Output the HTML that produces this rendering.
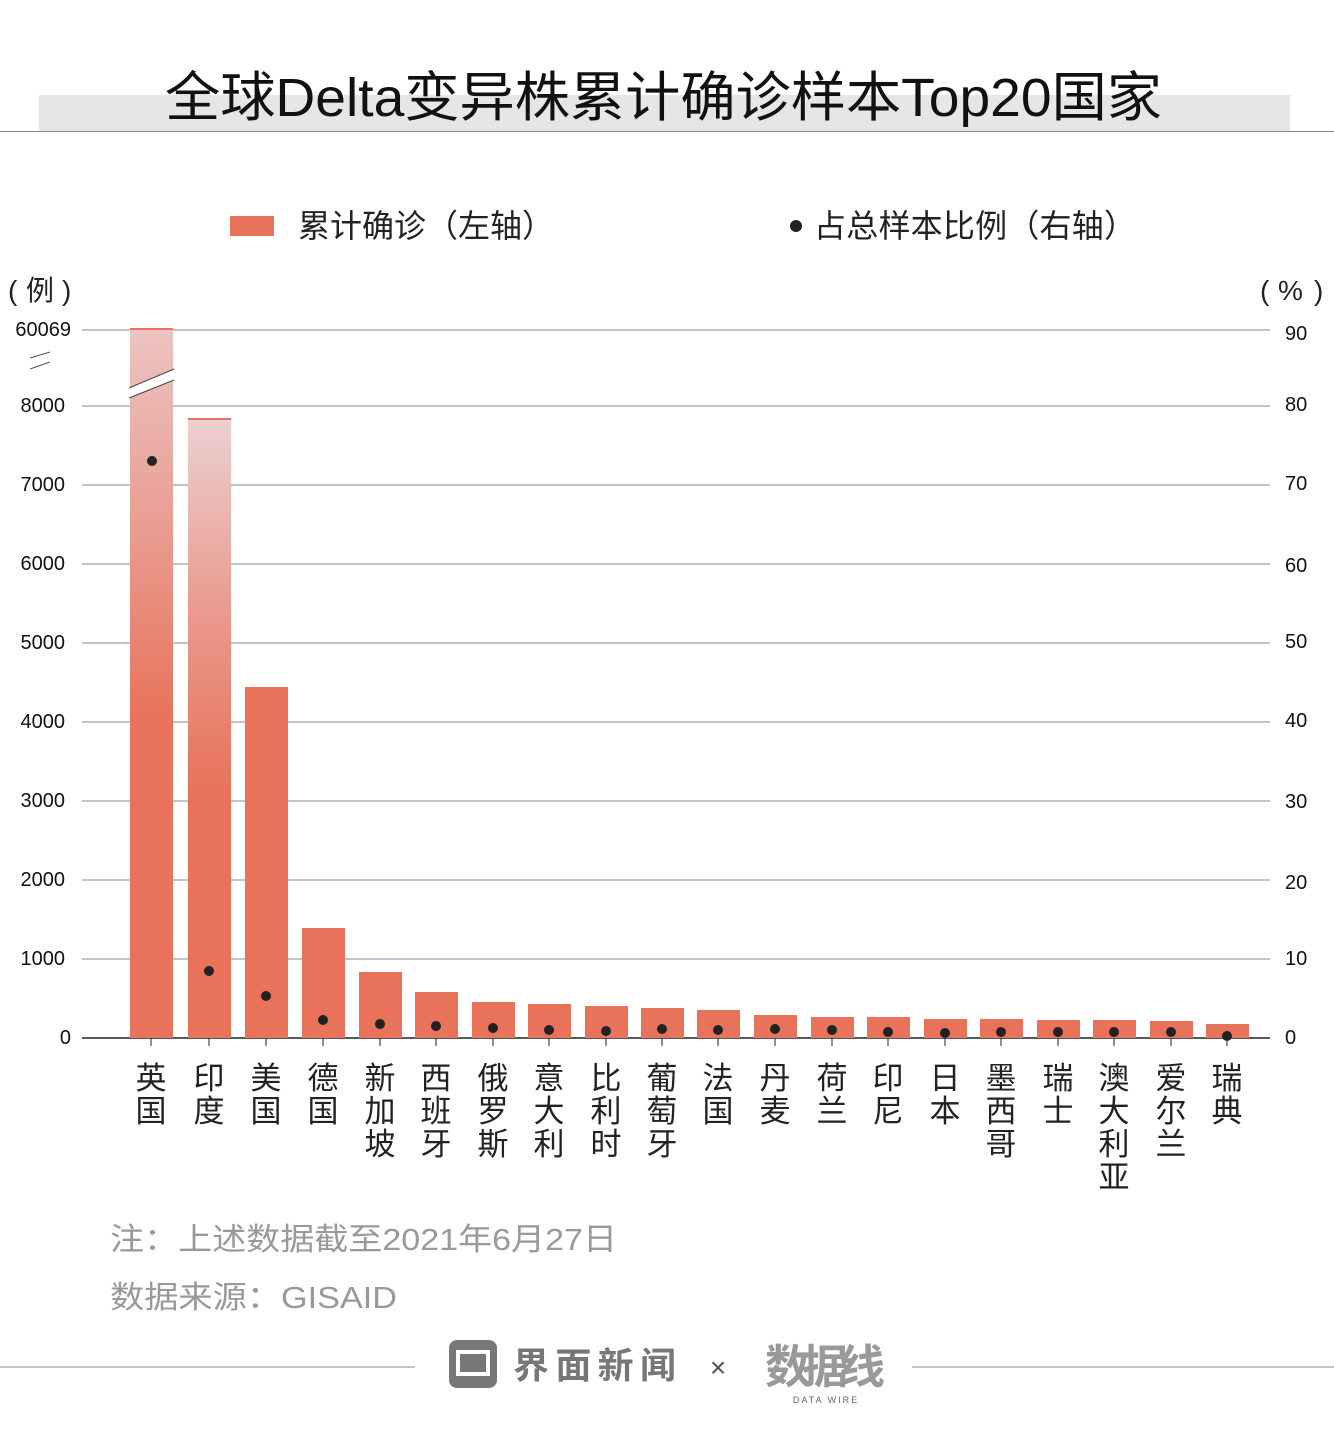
<!DOCTYPE html><html><head><meta charset="utf-8"><style>
body{margin:0;width:1334px;height:1442px;background:#fff;overflow:hidden;font-family:"Liberation Sans","Noto Sans CJK SC",sans-serif}
</style></head><body>
<svg width="1334" height="1442" xmlns="http://www.w3.org/2000/svg" font-family="Liberation Sans, Noto Sans CJK SC, sans-serif">
<defs>
<linearGradient id="g1" x1="0" y1="0" x2="0" y2="1"><stop offset="0" stop-color="#ecc4c2"/><stop offset="0.3" stop-color="#e99a8e"/><stop offset="0.55" stop-color="#e8735a"/><stop offset="1" stop-color="#e8735a"/></linearGradient>
<linearGradient id="g2" x1="0" y1="0" x2="0" y2="1"><stop offset="0" stop-color="#ecd0d0"/><stop offset="0.3" stop-color="#ea9c90"/><stop offset="0.6" stop-color="#e8735a"/><stop offset="1" stop-color="#e8735a"/></linearGradient>
</defs>
<rect x="39" y="95" width="1251" height="36" fill="#e6e6e6"/>
<line x1="0" y1="131.5" x2="1334" y2="131.5" stroke="#888" stroke-width="1"/>
<text x="165" y="116" font-size="54" textLength="997" lengthAdjust="spacingAndGlyphs" fill="#111">全球Delta变异株累计确诊样本Top20国家</text>
<rect x="230" y="216" width="44" height="20" fill="#e8735a"/>
<text x="298" y="237" font-size="32" fill="#222" textLength="256">累计确诊（左轴）</text>
<circle cx="796" cy="226" r="6" fill="#222"/>
<text x="814" y="237" font-size="32" fill="#222" textLength="322">占总样本比例（右轴）</text>
<g font-size="28" fill="#222">
<text x="8" y="300">(</text><text x="26" y="300">例</text><text x="62" y="300">)</text>
<text x="1260" y="300">(</text><text x="1278" y="300">%</text><text x="1314" y="300">)</text>
</g>
<g stroke="#888" stroke-width="1">
<line x1="82" y1="330" x2="1270" y2="330"/><line x1="82" y1="406" x2="1270" y2="406"/><line x1="82" y1="485" x2="1270" y2="485"/><line x1="82" y1="564" x2="1270" y2="564"/><line x1="82" y1="643" x2="1270" y2="643"/><line x1="82" y1="722" x2="1270" y2="722"/><line x1="82" y1="801" x2="1270" y2="801"/><line x1="82" y1="880" x2="1270" y2="880"/><line x1="82" y1="959" x2="1270" y2="959"/>
</g>
<line x1="82" y1="1038" x2="1270" y2="1038" stroke="#222" stroke-width="1.5"/>
<g font-size="20" fill="#111" text-anchor="end">
<text x="71" y="336">60069</text><text x="65" y="412">8000</text><text x="65" y="491">7000</text><text x="65" y="570">6000</text><text x="65" y="649">5000</text><text x="65" y="728">4000</text><text x="65" y="807">3000</text><text x="65" y="886">2000</text><text x="65" y="965">1000</text><text x="71" y="1044">0</text>
</g>
<g stroke="#555" stroke-width="1"><line x1="30" y1="358" x2="50" y2="352"/><line x1="30" y1="369" x2="50" y2="362"/></g>
<g font-size="20" fill="#111">
<text x="1285" y="340">90</text><text x="1285" y="411">80</text><text x="1285" y="490">70</text><text x="1285" y="572">60</text><text x="1285" y="648">50</text><text x="1285" y="727">40</text><text x="1285" y="808">30</text><text x="1285" y="889">20</text><text x="1285" y="965">10</text><text x="1285" y="1044">0</text>
</g>
<g fill="#e8735a">
<rect x="130" y="328" width="43" height="710" fill="url(#g1)"/>
<rect x="188" y="418" width="43" height="620" fill="url(#g2)"/>
<rect x="245" y="687" width="43" height="351"/>
<rect x="302" y="928" width="43" height="110"/>
<rect x="359" y="972" width="43" height="66"/>
<rect x="415" y="992" width="43" height="46"/>
<rect x="472" y="1002" width="43" height="36"/>
<rect x="528" y="1004" width="43" height="34"/>
<rect x="585" y="1006" width="43" height="32"/>
<rect x="641" y="1008" width="43" height="30"/>
<rect x="697" y="1010" width="43" height="28"/>
<rect x="754" y="1015" width="43" height="23"/>
<rect x="811" y="1017" width="43" height="21"/>
<rect x="867" y="1017" width="43" height="21"/>
<rect x="924" y="1019" width="43" height="19"/>
<rect x="980" y="1019" width="43" height="19"/>
<rect x="1037" y="1020" width="43" height="18"/>
<rect x="1093" y="1020" width="43" height="18"/>
<rect x="1150" y="1021" width="43" height="17"/>
<rect x="1206" y="1024" width="43" height="14"/>
</g>
<rect x="130" y="328" width="43" height="2" fill="#e8735a"/>
<rect x="188" y="418" width="43" height="2" fill="#e8735a"/>
<polygon points="129,388 174,369 174,380 129,398" fill="#fff"/>
<line x1="129" y1="388" x2="174" y2="369" stroke="#444" stroke-width="1"/>
<line x1="129" y1="398" x2="174" y2="380" stroke="#444" stroke-width="1"/>
<g fill="#222">
<circle cx="152" cy="461" r="5"/><circle cx="209" cy="971" r="5"/><circle cx="266" cy="996" r="5"/><circle cx="323" cy="1020" r="5"/><circle cx="380" cy="1024" r="5"/><circle cx="436" cy="1026" r="5"/><circle cx="493" cy="1028" r="5"/><circle cx="549" cy="1030" r="5"/><circle cx="606" cy="1031" r="5"/><circle cx="662" cy="1029" r="5"/><circle cx="718" cy="1030" r="5"/><circle cx="775" cy="1029" r="5"/><circle cx="832" cy="1030" r="5"/><circle cx="888" cy="1032" r="5"/><circle cx="945" cy="1033" r="5"/><circle cx="1001" cy="1032" r="5"/><circle cx="1058" cy="1032" r="5"/><circle cx="1114" cy="1032" r="5"/><circle cx="1171" cy="1032" r="5"/><circle cx="1227" cy="1036" r="5"/>
</g>
<g stroke="#222" stroke-width="1">
<line x1="151" y1="1038" x2="151" y2="1046"/><line x1="209" y1="1038" x2="209" y2="1046"/><line x1="266" y1="1038" x2="266" y2="1046"/><line x1="323" y1="1038" x2="323" y2="1046"/><line x1="380" y1="1038" x2="380" y2="1046"/><line x1="436" y1="1038" x2="436" y2="1046"/><line x1="493" y1="1038" x2="493" y2="1046"/><line x1="549" y1="1038" x2="549" y2="1046"/><line x1="606" y1="1038" x2="606" y2="1046"/><line x1="662" y1="1038" x2="662" y2="1046"/><line x1="718" y1="1038" x2="718" y2="1046"/><line x1="775" y1="1038" x2="775" y2="1046"/><line x1="832" y1="1038" x2="832" y2="1046"/><line x1="888" y1="1038" x2="888" y2="1046"/><line x1="945" y1="1038" x2="945" y2="1046"/><line x1="1001" y1="1038" x2="1001" y2="1046"/><line x1="1058" y1="1038" x2="1058" y2="1046"/><line x1="1114" y1="1038" x2="1114" y2="1046"/><line x1="1171" y1="1038" x2="1171" y2="1046"/><line x1="1227" y1="1038" x2="1227" y2="1046"/>
</g>
<g font-size="31" fill="#222" text-anchor="middle">
<text x="151" y="1089">英</text><text x="151" y="1122">国</text>
<text x="209" y="1089">印</text><text x="209" y="1122">度</text>
<text x="266" y="1089">美</text><text x="266" y="1122">国</text>
<text x="323" y="1089">德</text><text x="323" y="1122">国</text>
<text x="380" y="1089">新</text><text x="380" y="1122">加</text><text x="380" y="1155">坡</text>
<text x="436" y="1089">西</text><text x="436" y="1122">班</text><text x="436" y="1155">牙</text>
<text x="493" y="1089">俄</text><text x="493" y="1122">罗</text><text x="493" y="1155">斯</text>
<text x="549" y="1089">意</text><text x="549" y="1122">大</text><text x="549" y="1155">利</text>
<text x="606" y="1089">比</text><text x="606" y="1122">利</text><text x="606" y="1155">时</text>
<text x="662" y="1089">葡</text><text x="662" y="1122">萄</text><text x="662" y="1155">牙</text>
<text x="718" y="1089">法</text><text x="718" y="1122">国</text>
<text x="775" y="1089">丹</text><text x="775" y="1122">麦</text>
<text x="832" y="1089">荷</text><text x="832" y="1122">兰</text>
<text x="888" y="1089">印</text><text x="888" y="1122">尼</text>
<text x="945" y="1089">日</text><text x="945" y="1122">本</text>
<text x="1001" y="1089">墨</text><text x="1001" y="1122">西</text><text x="1001" y="1155">哥</text>
<text x="1058" y="1089">瑞</text><text x="1058" y="1122">士</text>
<text x="1114" y="1089">澳</text><text x="1114" y="1122">大</text><text x="1114" y="1155">利</text><text x="1114" y="1188">亚</text>
<text x="1171" y="1089">爱</text><text x="1171" y="1122">尔</text><text x="1171" y="1155">兰</text>
<text x="1227" y="1089">瑞</text><text x="1227" y="1122">典</text>
</g>
<text x="110" y="1250" font-size="31" fill="#999" textLength="507" lengthAdjust="spacingAndGlyphs">注：上述数据截至2021年6月27日</text>
<text x="110" y="1308" font-size="31" fill="#999" textLength="287" lengthAdjust="spacingAndGlyphs">数据来源：GISAID</text>
<line x1="0" y1="1367" x2="415" y2="1367" stroke="#888"/>
<line x1="912" y1="1367" x2="1334" y2="1367" stroke="#888"/>
<rect x="449" y="1340" width="48" height="48" rx="8" fill="#777"/>
<rect x="458" y="1352" width="30" height="22" fill="none" stroke="#fff" stroke-width="4"/>
<text x="513" y="1378" font-size="36" font-weight="bold" fill="#777" textLength="163">界面新闻</text>
<text x="718" y="1377" font-size="28" fill="#555" text-anchor="middle">×</text>
<text x="825" y="1383" font-size="46" font-weight="bold" fill="#999" text-anchor="middle" textLength="120">数据线</text>
<text x="826" y="1403" font-size="9" fill="#666" text-anchor="middle" letter-spacing="2">DATA WIRE</text>
</svg>
</body></html>
